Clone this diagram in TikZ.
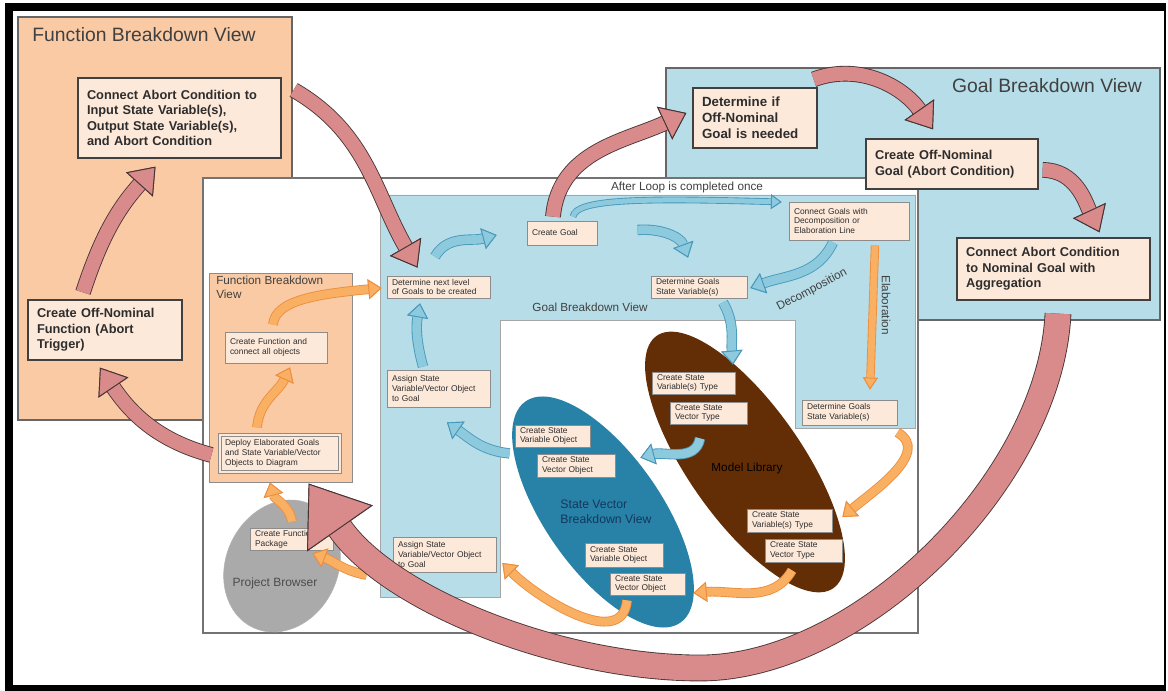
\documentclass[tikz,border=0pt]{standalone}
\usepackage{fontspec}
\setmainfont{Liberation Sans}
\usetikzlibrary{arrows.meta,positioning,shapes.geometric}
\definecolor{fbpeach}{RGB}{250,202,164}
\definecolor{boxpeach}{RGB}{253,233,218}
\definecolor{gbblue}{RGB}{183,221,232}
\definecolor{svteal}{RGB}{40,130,168}
\definecolor{svnavy}{RGB}{22,54,92}
\definecolor{mlbrown}{RGB}{99,46,6}
\definecolor{pbgray}{RGB}{170,170,170}
\definecolor{arrred}{RGB}{217,138,138}
\definecolor{arrredline}{RGB}{72,52,52}
\definecolor{arrblue}{RGB}{142,202,222}
\definecolor{arrblueline}{RGB}{72,152,186}
\definecolor{arrorange}{RGB}{250,176,98}
\definecolor{arrorangeline}{RGB}{236,142,62}
\definecolor{txtdark}{RGB}{45,45,45}

\begin{document}
\begin{tikzpicture}[x=0.75pt, y=0.75pt,
  bigbox/.style={draw=black!75, fill=boxpeach, line width=1pt,
    font=\fontsize{9.6}{11.6}\selectfont\bfseries, text=txtdark,
    align=left, inner xsep=6.75pt, inner ysep=1pt},
  smallbox/.style={draw=black!45, fill=boxpeach, line width=0.6pt,
    font=\fontsize{6.3}{7.3}\selectfont, text=txtdark,
    align=left, inner xsep=3.75pt, inner ysep=1pt},
  panel/.style={draw=black!60, line width=0.9pt},
  viewlabel/.style={font=\fontsize{8.8}{10.5}\selectfont, text=black!75, inner sep=0pt},
  bigtitle/.style={font=\fontsize{14.5}{17}\selectfont, text=black!75},
  blockarr/.style n args={5}{draw=#1, line width=#3,
    preaction={draw=#2, line width=#3+1.3pt},
    -{Triangle[length=#4, width=#5, fill=#1, color=#2, line width=0.7pt]}},
  redarr/.style={blockarr={arrred}{arrredline}{10.5pt}{18pt}{27pt}},
  bluearr/.style={blockarr={arrblue}{arrblueline}{6.5pt}{10.5pt}{16pt}},
  orangearr/.style={blockarr={arrorange}{arrorangeline}{6pt}{10pt}{15pt}}]
\useasboundingbox (0,0) rectangle (1168,-691);
% Frame
\fill[white] (0,0) rectangle (1168,-691);
\fill[black] (5,-3) rectangle (1166,-691);
\fill[white] (13,-11) rectangle (1164,-685);
% Panels
\filldraw[panel, fill=fbpeach] (18,-17) rectangle (292,-420);
\filldraw[panel, fill=gbblue] (666,-68) rectangle (1160,-320);
\filldraw[draw=black!55, line width=0.9pt, fill=white] (203,-178) rectangle (918,-633);
\filldraw[draw=black!35, line width=0.6pt, fill=gbblue]
  (380,-195) -- (915,-195) -- (915,-428) -- (795,-428) -- (795,-320)
  -- (500,-320) -- (500,-597) -- (380,-597) -- cycle;
\filldraw[draw=black!45, line width=0.6pt, fill=fbpeach] (209,-273) rectangle (352,-482);
% Ellipses
\node[ellipse, fill=pbgray, draw=black!30, minimum width=102pt,
      minimum height=84pt, rotate=65] (pbro) at (282,-566) {};
\node[ellipse, fill=svteal, minimum width=202.5pt,
      minimum height=87pt, rotate=-55] (svbv) at (603,-512) {};
\node[ellipse, fill=mlbrown, minimum width=231pt,
      minimum height=85.5pt, rotate=-55] (mlib) at (745,-462) {};
% View labels
\node[bigtitle] (fbvtitle) at (144,-35) {Function Breakdown View};
\node[bigtitle] (gbvtitle) at (1047,-86) {Goal Breakdown View};
\node[viewlabel, anchor=north west, align=left] (fbvsmall) at (216,-276)
  {Function Breakdown\\View};
\node[viewlabel] (gbvinner) at (590,-307) {Goal Breakdown View};
\node[viewlabel] (loopnote) at (687,-187) {After Loop is completed once};
\node[viewlabel, rotate=28] (decomp) at (812,-290) {Decomposition};
\node[viewlabel, rotate=-90] (elab) at (886,-305) {Elaboration};
\node[viewlabel, font=\fontsize{9}{10.5}\selectfont, text=black!70] (pbtext) at (275,-583)
  {Project Browser};
\node[viewlabel, text=black] (mltext) at (747,-468) {Model Library};
\node[viewlabel, font=\fontsize{9.2}{11}\selectfont, text=svnavy, align=left] (svtext)
  at (606,-512) {State Vector\\Breakdown View};
% Nodes: abort steps
\node[bigbox, text width=138.75pt, minimum height=60pt] (cac) at (179.5,-118)
  {Connect Abort Condition to\\Input State Variable(s),\\Output State Variable(s),\\and Abort Condition};
\node[bigbox, text width=102pt, minimum height=45pt] (cofn) at (105,-330)
  {Create Off-Nominal\\Function (Abort\\Trigger)};
\node[bigbox, text width=79.5pt, minimum height=45pt,
      font=\fontsize{10}{12}\selectfont\bfseries] (dogn) at (755,-118)
  {Determine if\\Off-Nominal\\Goal is needed};
\node[bigbox, text width=115.5pt, minimum height=37.5pt] (cong) at (952,-164)
  {Create Off-Nominal\\Goal (Abort Condition)};
\node[bigbox, text width=131.25pt, minimum height=46.5pt] (cacg) at (1053.5,-269)
  {Connect Abort Condition\\to Nominal Goal with\\Aggregation};
% Nodes: goal loop
\node[smallbox, text width=69.75pt, minimum height=16.5pt] (dnl) at (438.5,-287)
  {Determine next level\\of Goals to be created};
\node[smallbox, text width=45pt, minimum height=18pt] (cg) at (562,-233) {Create Goal\\[5pt]};
\node[smallbox, text width=82.5pt, minimum height=28.5pt] (cgd) at (849,-221)
  {Connect Goals with\\Decomposition or\\Elaboration Line};
\node[smallbox, text width=64.5pt, minimum height=16.5pt] (dgs1) at (699,-287)
  {Determine Goals\\State Variable(s)};
\node[smallbox, text width=69.75pt, minimum height=27.75pt] (asv1) at (438.5,-388.5)
  {Assign State\\Variable/Vector Object\\to Goal};
\node[smallbox, text width=63.75pt, minimum height=18.75pt] (dgs2) at (849.5,-412.5)
  {Determine Goals\\State Variable(s)};
\node[smallbox, text width=69.75pt, minimum height=26.25pt] (asv2) at (444.5,-554.5)
  {Assign State\\Variable/Vector Object\\to Goal};
% Nodes: function breakdown
\node[smallbox, text width=69pt, minimum height=23.25pt] (cf) at (276,-347.5)
  {Create Function and\\connect all objects};
\node[smallbox, text width=82.5pt, minimum height=27.75pt, line width=0.9pt,
      double=boxpeach, double distance=0.8pt] (dep) at (280,-453.5)
  {Deploy Elaborated Goals\\and State Variable/Vector\\Objects to Diagram};
\node[smallbox, text width=54.75pt, minimum height=16.5pt] (cfp) at (291.5,-539)
  {Create Function\\Package};
% Nodes: model library
\node[smallbox, text width=54.75pt, minimum height=16.5pt] (mlt1) at (693.5,-383)
  {Create State\\Variable(s) Type};
\node[smallbox, text width=50.25pt, minimum height=16.5pt] (mlv1) at (708.5,-413)
  {Create State\\Vector Type};
\node[smallbox, text width=56.25pt, minimum height=17.25pt] (mlt2) at (789.5,-520.5)
  {Create State\\Variable(s) Type};
\node[smallbox, text width=50.25pt, minimum height=17.25pt] (mlv2) at (803.5,-550.5)
  {Create State\\Vector Type};
% Nodes: state vector breakdown
\node[smallbox, text width=48.75pt, minimum height=16.5pt] (svo1) at (552.5,-436)
  {Create State\\Variable Object};
\node[smallbox, text width=51pt, minimum height=17.25pt] (svv1) at (576,-465.5)
  {Create State\\Vector Object};
\node[smallbox, text width=51pt, minimum height=18pt] (svo2) at (624,-555)
  {Create State\\Variable Object};
\node[smallbox, text width=48.75pt, minimum height=16.5pt] (svv2) at (647.5,-584)
  {Create State\\Vector Object};
% Blue arrows (goal loop)
\draw[bluearr] ([shift={(-3.5,19)}]dnl.north) to[out=60, in=195] ([shift={(-30,-2)}]cg.west);
\draw[bluearr] ([shift={(-15.5,3)}]asv1.north) to[out=105, in=260] ([shift={(-18.5,-5)}]dnl.south);
\draw[blockarr={arrblue}{arrblueline}{3.75pt}{8pt}{11pt}] ([shift={(11,4)}]cg.north)
  .. controls (576,-199) and (640,-198) .. ([shift={(-7,19)}]cgd.west);
\draw[bluearr] ([shift={(40,3)}]cg.east) to[out=5, in=110] ([shift={(-11,18)}]dgs1.north);
\draw[bluearr] ([shift={(-16,-2)}]cgd.south) to[out=-115, in=20] ([shift={(3,-1)}]dgs1.east);
\draw[bluearr] ([shift={(24,-4)}]dgs1.south) to[out=-60, in=95] ([shift={(39.5,7)}]mlt1.north);
\draw[bluearr] ([shift={(-8.5,-14)}]mlv1.south) to[out=-100, in=15] ([shift={(25,-4)}]svv1.north east);
\draw[bluearr] ([shift={(-5,-6)}]svo1.south west) to[out=175, in=-35] ([shift={(8.5,-15)}]asv1.south);
% Orange arrows (elaboration path)
\draw[blockarr={arrorange}{arrorangeline}{5pt}{9pt}{11pt}] ([shift={(26,-5)}]cgd.south)
  -- ([shift={(20.5,10)}]dgs2.north);
\draw[orangearr] ([shift={(0,-7)}]dgs2.south east) to[out=-30, in=40] ([shift={(10,3.5)}]mlt2.east);
\draw[orangearr] ([shift={(-11.5,-8)}]mlv2.south) to[out=-120, in=5] ([shift={(8,-9)}]svv2.east);
\draw[orangearr] ([shift={(-20.5,-5)}]svv2.south) to[out=-95, in=-45] ([shift={(6,-8.5)}]asv2.east);
\draw[orangearr] ([shift={(-26,-20.5)}]asv2.west) to[out=170, in=-20] ([shift={(-21,-3)}]cfp.south east);
\draw[orangearr] ([shift={(0.5,6)}]cfp.north) to[out=100, in=-75] ([shift={(-10,-10)}]dep.south);
\draw[orangearr] ([shift={(-23,7)}]dep.north) to[out=85, in=-115] ([shift={(14,-4)}]cf.south);
\draw[orangearr] ([shift={(-3,7)}]cf.north) .. controls (275,-300) and (318,-294)
  .. ([shift={(-5,-1)}]dnl.west);
% Red arrows (abort path)
\draw[redarr] ([shift={(-22,7)}]cofn.north) to[out=72, in=228] ([shift={(-24,-8)}]cac.south);
\draw[redarr] ([shift={(-8,-1.5)}]dep.west) to[out=165, in=-56] ([shift={(-5,-7)}]cofn.south);
\draw[redarr] ([shift={(12,28)}]cac.east) to[out=-30, in=120] ([shift={(-21,8)}]dnl.north);
\draw[redarr] ([shift={(-9,4)}]cg.north) to[out=85, in=205] ([shift={(-6,5)}]dogn.west);
\draw[redarr] ([shift={(-4,8)}]dogn.north east) to[out=20, in=125] ([shift={(-19,9)}]cong.north);
\draw[redarr] ([shift={(4,-6)}]cong.east) to[out=0, in=115] ([shift={(46,5)}]cacg.north);
% Big return arrow
\coordinate (bend) at (700,-668);
\draw[blockarr={arrred}{arrredline}{18.75pt}{41pt}{60pt}]
  ([shift={(4.5,-13)}]cacg.south) .. controls (1050,-480) and (860,-668) .. (bend)
  .. controls (560,-668) and (390,-600) .. ([shift={(-32,-11)}]dep.south east);
\end{tikzpicture}
\end{document}
